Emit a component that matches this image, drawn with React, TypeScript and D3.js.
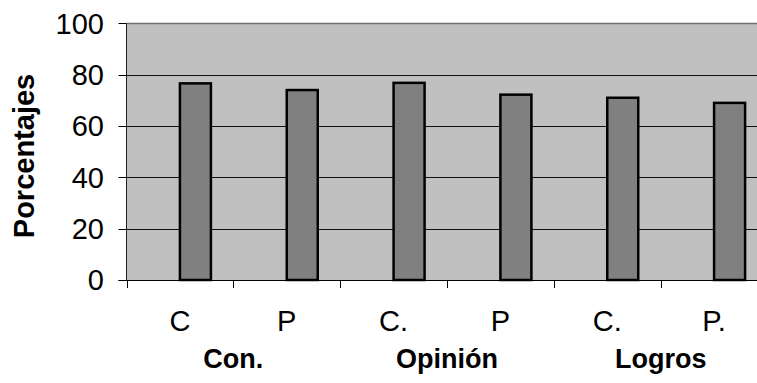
import React from "react";
import * as d3 from "d3";

const categories = ["C", "P", "C.", "P", "C.", "P."];
const values = [76.6, 74, 76.8, 72.2, 71, 69];
const groups = ["Con.", "Opinión", "Logros"];
const yTicks = [0, 20, 40, 60, 80, 100];

const W = 757;
const H = 383;
const left = 126.5;
const right = 767.5;
const top = 23.3;
const bottom = 280;

export default function App() {
  const x = d3.scaleBand<number>().domain(d3.range(categories.length)).range([left, right]).padding(0);
  const y = d3.scaleLinear().domain([0, 100]).range([bottom, top]);
  const bw = x.bandwidth();
  const barW = 31;
  const font = "'Liberation Sans', Arial, sans-serif";

  return (
    <svg width={W} height={H} style={{ position: "absolute", left: 0, top: 0 }} fontFamily={font}>
      <rect x={left} y={top} width={right - left} height={bottom - top} fill="#c0c0c0" />
      {/* gridlines */}
      {yTicks.filter((t) => t > 0 && t < 100).map((t) => (
        <line key={t} x1={left} x2={right} y1={Math.round(y(t)) + 0.5} y2={Math.round(y(t)) + 0.5} stroke="#111" strokeWidth={1} />
      ))}
      <line x1={left} x2={right} y1={Math.round(y(100)) + 0.5} y2={Math.round(y(100)) + 0.5} stroke="#707070" strokeWidth={1.5} />
      {/* bars */}
      {values.map((v, i) => {
        const cx = (x(i) as number) + bw / 2;
        return (
          <rect key={i} x={cx} y={y(v)} width={barW} height={bottom - y(v)} fill="#808080" stroke="#000" strokeWidth={2.5} />
        );
      })}
      {/* y axis */}
      <line x1={left} x2={left} y1={top} y2={bottom} stroke="#222" strokeWidth={1} />
      {yTicks.map((t) => (
        <g key={t}>
          <line x1={left - 8} x2={left} y1={Math.round(y(t)) + 0.5} y2={Math.round(y(t)) + 0.5} stroke="#000" />
          <text x={104} y={y(t)} dy="0.36em" textAnchor="end" fontSize={29} fill="#000">{t}</text>
        </g>
      ))}
      {/* x axis */}
      <line x1={left - 8} x2={right} y1={bottom + 0.5} y2={bottom + 0.5} stroke="#000" strokeWidth={1} />
      {d3.range(categories.length + 1).map((i) => {
        const bx = Math.round(left + i * bw) + 0.5;
        return <line key={i} x1={bx} x2={bx} y1={bottom} y2={bottom + 8} stroke="#000" />;
      })}
      {categories.map((c, i) => (
        <text key={i} x={(x(i) as number) + bw / 2} y={331} textAnchor="middle" fontSize={29} fill="#000">{c}</text>
      ))}
      {groups.map((g, i) => (
        <text key={g} x={left + (2 * i + 1) * bw} y={368} textAnchor="middle" fontSize={27} fontWeight="bold" fill="#000">{g}</text>
      ))}
      <text transform={`translate(34,156) rotate(-90)`} textAnchor="middle" fontSize={29} fontWeight="bold" fill="#000">Porcentajes</text>
    </svg>
  );
}
